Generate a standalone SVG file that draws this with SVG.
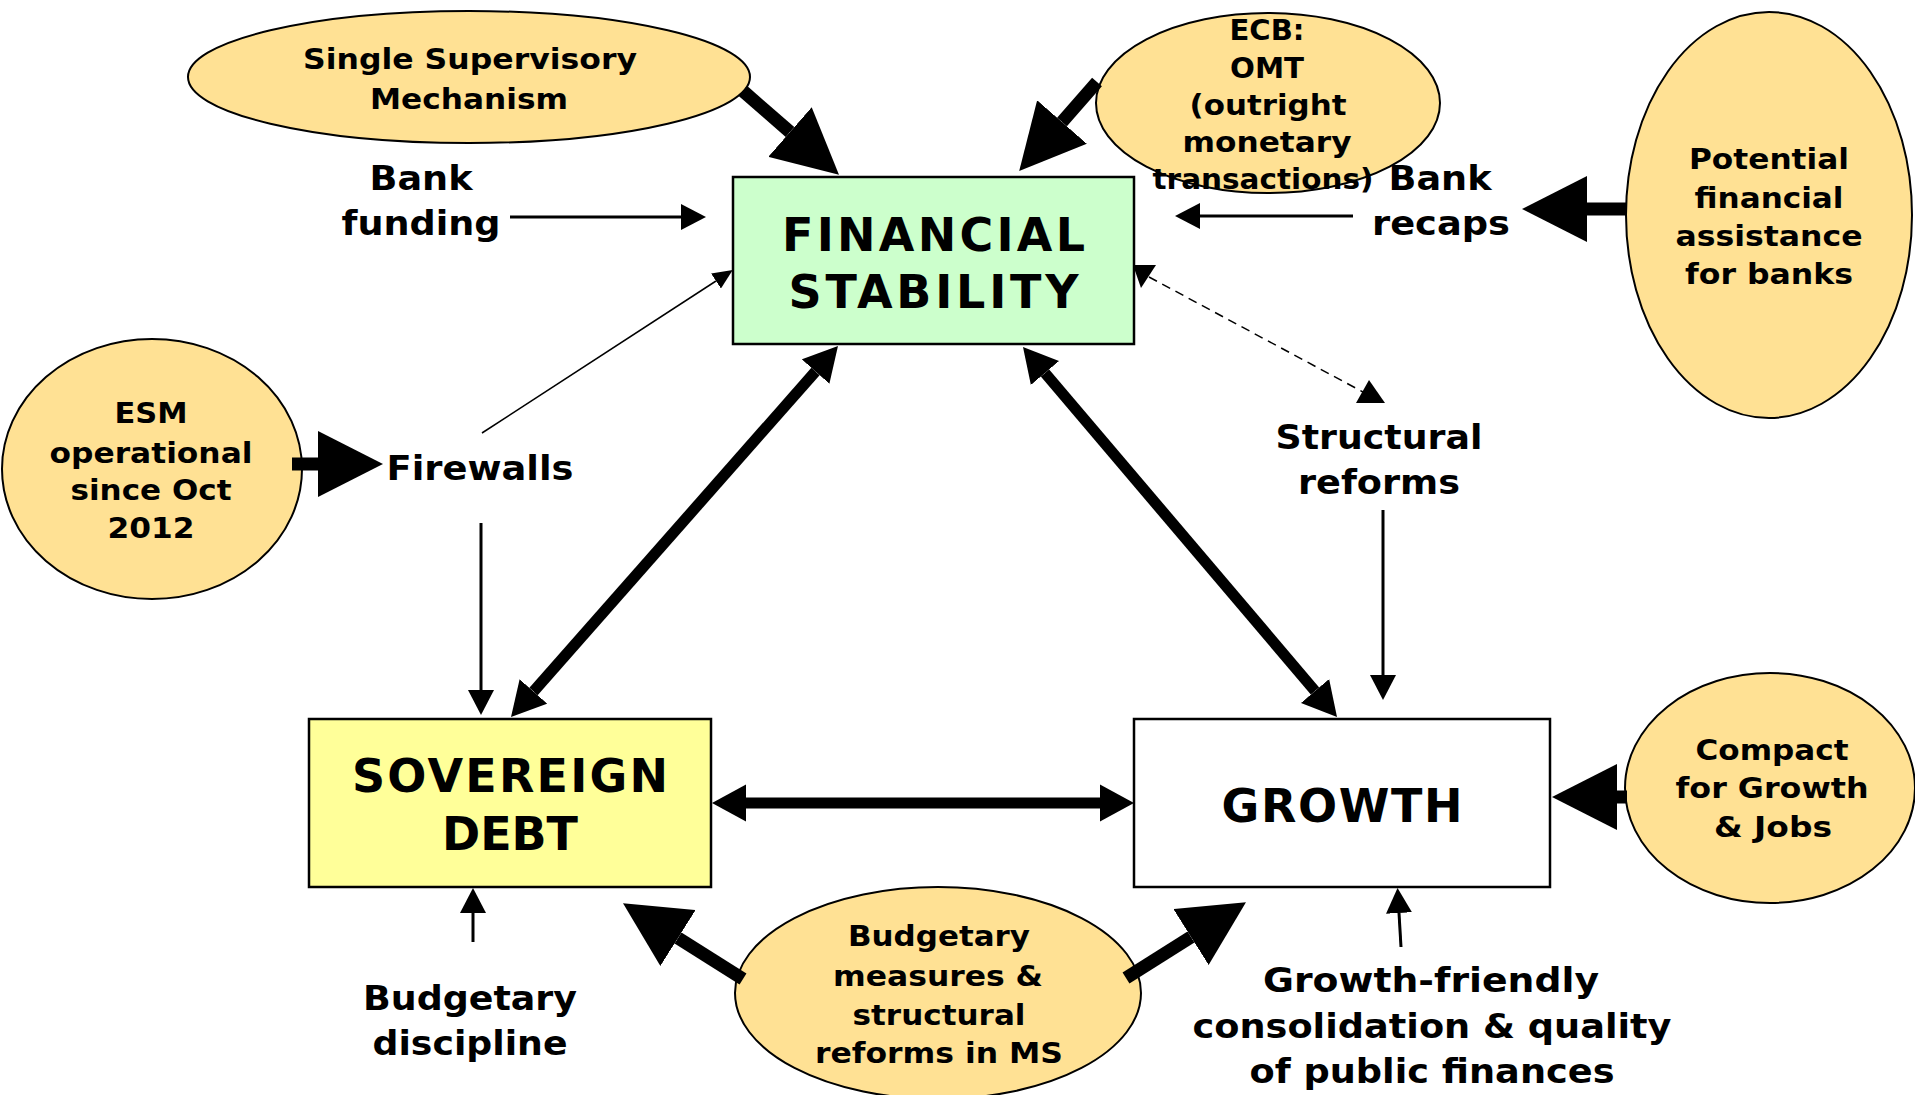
<svg xmlns="http://www.w3.org/2000/svg" width="1915" height="1095" viewBox="0 0 1915 1095">
<defs>
<style>
.el{fill:#FFE194;stroke:#000;stroke-width:2}
.box{stroke:#000;stroke-width:2.5}
text{font-family:"DejaVu Sans","Verdana",sans-serif;font-weight:bold;fill:#000;text-anchor:middle}
.t{font-size:46px}
.e{font-size:29px}
.l{font-size:34px}
.thick{stroke:#000;stroke-width:13;fill:none}
.med{stroke:#000;stroke-width:11;fill:none}
.thin{stroke:#000;stroke-width:3;fill:none}
</style>
<marker id="big" viewBox="0 -33 65 66" refX="0" refY="0" markerWidth="65" markerHeight="66" markerUnits="userSpaceOnUse" orient="auto"><path d="M0,-33 L65,0 L0,33 Z" fill="#000"/></marker>
<marker id="mid" viewBox="0 -19 34 38" refX="0" refY="0" markerWidth="34" markerHeight="38" markerUnits="userSpaceOnUse" orient="auto-start-reverse"><path d="M0,-18.5 L34,0 L0,18.5 Z" fill="#000"/></marker>
<marker id="ah" viewBox="0 -13 25 26" refX="0" refY="0" markerWidth="25" markerHeight="26" markerUnits="userSpaceOnUse" orient="auto"><path d="M0,-13 L25,0 L0,13 Z" fill="#000"/></marker>
<marker id="sm" viewBox="0 -9 20 18" refX="0" refY="0" markerWidth="20" markerHeight="18" markerUnits="userSpaceOnUse" orient="auto"><path d="M0,-9 L20,0 L0,9 Z" fill="#000"/></marker>
</defs>
<rect width="1915" height="1095" fill="#fff"/>

<g id="node-fs"><rect class="box" x="733" y="177" width="401" height="167" fill="#CCFFCC"/>
<text class="t" x="933.5" y="251" textLength="303" lengthAdjust="spacing">FINANCIAL</text>
<text class="t" x="933.5" y="308" textLength="290" lengthAdjust="spacing">STABILITY</text></g>

<g id="node-sd"><rect class="box" x="309" y="719" width="402" height="168" fill="#FFFF99"/>
<text class="t" x="510" y="792" textLength="316" lengthAdjust="spacing">SOVEREIGN</text>
<text class="t" x="510" y="850" textLength="136" lengthAdjust="spacing">DEBT</text></g>

<g id="node-growth"><rect class="box" x="1134" y="719" width="416" height="168" fill="#fff"/>
<text class="t" x="1342" y="822" textLength="241" lengthAdjust="spacing">GROWTH</text></g>

<g id="node-ssm"><ellipse class="el" cx="469" cy="77" rx="281" ry="66"/>
<text class="e" x="470" y="69" textLength="334" lengthAdjust="spacingAndGlyphs">Single Supervisory</text>
<text class="e" x="469" y="109" textLength="198" lengthAdjust="spacingAndGlyphs">Mechanism</text></g>

<g id="node-ecb"><ellipse class="el" cx="1268" cy="103" rx="172" ry="90"/>
<text class="e" x="1267" y="40" textLength="75" lengthAdjust="spacingAndGlyphs">ECB:</text>
<text class="e" x="1267" y="78" textLength="74" lengthAdjust="spacingAndGlyphs">OMT</text>
<text class="e" x="1268" y="115" textLength="157" lengthAdjust="spacingAndGlyphs">(outright</text>
<text class="e" x="1267" y="152" textLength="169" lengthAdjust="spacingAndGlyphs">monetary</text>
<text class="e" x="1263" y="189" textLength="221" lengthAdjust="spacingAndGlyphs">transactions)</text></g>

<g id="node-potential"><ellipse class="el" cx="1769" cy="215" rx="143" ry="203"/>
<text class="e" x="1769" y="169" textLength="160" lengthAdjust="spacingAndGlyphs">Potential</text>
<text class="e" x="1769" y="208" textLength="149" lengthAdjust="spacingAndGlyphs">financial</text>
<text class="e" x="1769" y="246" textLength="187" lengthAdjust="spacingAndGlyphs">assistance</text>
<text class="e" x="1769" y="284" textLength="168" lengthAdjust="spacingAndGlyphs">for banks</text></g>

<g id="node-esm"><ellipse class="el" cx="152" cy="469" rx="150" ry="130"/>
<text class="e" x="151" y="423" textLength="73" lengthAdjust="spacingAndGlyphs">ESM</text>
<text class="e" x="151" y="463" textLength="203" lengthAdjust="spacingAndGlyphs">operational</text>
<text class="e" x="151" y="500" textLength="161" lengthAdjust="spacingAndGlyphs">since Oct</text>
<text class="e" x="151" y="538" textLength="87" lengthAdjust="spacingAndGlyphs">2012</text></g>

<g id="node-budget-measures"><ellipse class="el" cx="938" cy="993" rx="203" ry="106"/>
<text class="e" x="939" y="946" textLength="182" lengthAdjust="spacingAndGlyphs">Budgetary</text>
<text class="e" x="938" y="986" textLength="210" lengthAdjust="spacingAndGlyphs">measures &amp;</text>
<text class="e" x="939" y="1025" textLength="173" lengthAdjust="spacingAndGlyphs">structural</text>
<text class="e" x="939" y="1063" textLength="248" lengthAdjust="spacingAndGlyphs">reforms in MS</text></g>

<g id="node-compact"><ellipse class="el" cx="1770" cy="788" rx="145" ry="115"/>
<text class="e" x="1772" y="760" textLength="153" lengthAdjust="spacingAndGlyphs">Compact</text>
<text class="e" x="1772" y="798" textLength="193" lengthAdjust="spacingAndGlyphs">for Growth</text>
<text class="e" x="1773" y="837" textLength="118" lengthAdjust="spacingAndGlyphs">&amp; Jobs</text></g>

<g id="label-bank-funding">
<text class="l" x="421" y="190" textLength="103" lengthAdjust="spacingAndGlyphs">Bank</text>
<text class="l" x="421" y="235" textLength="159" lengthAdjust="spacingAndGlyphs">funding</text></g>

<g id="label-bank-recaps">
<text class="l" x="1440" y="190" textLength="103" lengthAdjust="spacingAndGlyphs">Bank</text>
<text class="l" x="1441" y="235" textLength="138" lengthAdjust="spacingAndGlyphs">recaps</text></g>

<g id="label-firewalls">
<text class="l" x="480" y="480" textLength="187" lengthAdjust="spacingAndGlyphs">Firewalls</text></g>

<g id="label-structural">
<text class="l" x="1379" y="449" textLength="207" lengthAdjust="spacingAndGlyphs">Structural</text>
<text class="l" x="1379" y="494" textLength="162" lengthAdjust="spacingAndGlyphs">reforms</text></g>

<g id="label-budgetary-discipline">
<text class="l" x="470" y="1010" textLength="214" lengthAdjust="spacingAndGlyphs">Budgetary</text>
<text class="l" x="470" y="1055" textLength="195" lengthAdjust="spacingAndGlyphs">discipline</text></g>

<g id="label-growth-friendly">
<text class="l" x="1431" y="992" textLength="336" lengthAdjust="spacingAndGlyphs">Growth-friendly</text>
<text class="l" x="1432" y="1038" textLength="479" lengthAdjust="spacingAndGlyphs">consolidation &amp; quality</text>
<text class="l" x="1432" y="1083" textLength="365" lengthAdjust="spacingAndGlyphs">of public finances</text></g>

<g id="connectors">
<line class="thick" x1="743" y1="91" x2="790" y2="132" marker-end="url(#big)"/>
<line class="thick" x1="1097" y1="82" x2="1062" y2="122" marker-end="url(#big)"/>
<line class="thick" x1="1627" y1="209" x2="1587" y2="209" marker-end="url(#big)"/>
<line class="thick" x1="292" y1="464" x2="318" y2="464" marker-end="url(#big)"/>
<line class="thick" x1="1627" y1="797" x2="1617" y2="797" marker-end="url(#big)"/>
<line class="thick" x1="743" y1="979" x2="678" y2="938" marker-end="url(#big)"/>
<line class="thick" x1="1126" y1="978" x2="1191" y2="937" marker-end="url(#big)"/>
<line class="med" x1="815.5" y1="371.5" x2="533.5" y2="691.5" marker-start="url(#mid)" marker-end="url(#mid)"/>
<line class="med" x1="1045" y1="373" x2="1315" y2="691" marker-start="url(#mid)" marker-end="url(#mid)"/>
<line class="med" x1="746" y1="803" x2="1100" y2="803" marker-start="url(#mid)" marker-end="url(#mid)"/>
<line class="thin" x1="510" y1="217" x2="681" y2="217" marker-end="url(#ah)"/>
<line class="thin" x1="1353" y1="216" x2="1200" y2="216" marker-end="url(#ah)"/>
<line class="thin" x1="481" y1="523" x2="481" y2="690" marker-end="url(#ah)"/>
<line class="thin" x1="1383" y1="510" x2="1383" y2="675" marker-end="url(#ah)"/>
<line class="thin" x1="473" y1="942" x2="473" y2="913" marker-end="url(#ah)"/>
<line class="thin" x1="1401" y1="947" x2="1399" y2="913" marker-end="url(#ah)"/>
<line stroke="#000" stroke-width="1.5" x1="482" y1="433" x2="716" y2="281" marker-end="url(#sm)"/>
<line stroke="#000" stroke-width="1.5" stroke-dasharray="9 6" x1="1149" y1="277" x2="1363" y2="392"/>
<polygon points="1133,265 1156,265 1141,288" fill="#000"/>
<polygon points="1369,380 1356,403 1385,403" fill="#000"/>
</g>
</svg>
